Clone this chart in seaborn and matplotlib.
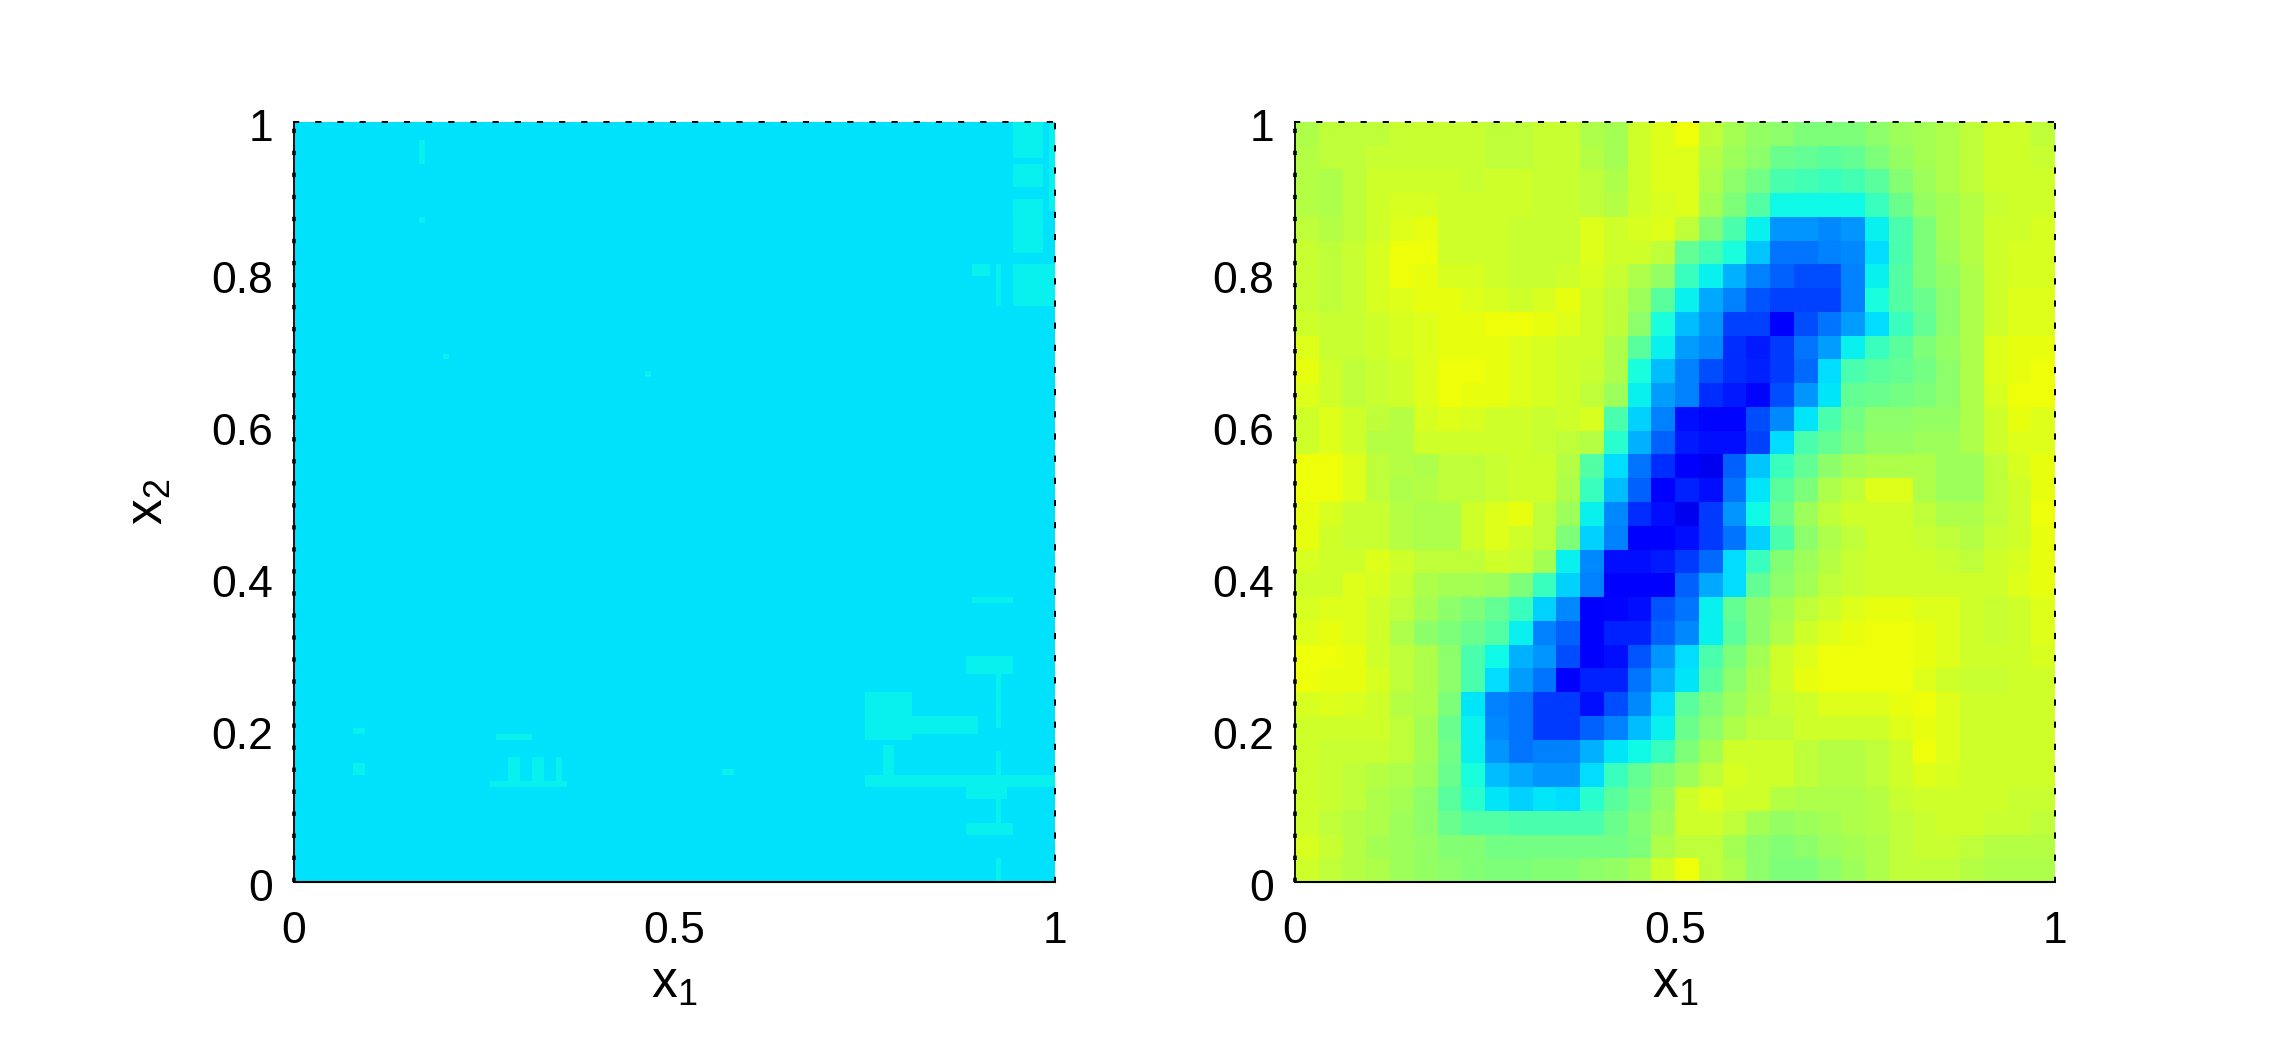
import numpy as np
import matplotlib
matplotlib.use("Agg")
import matplotlib.pyplot as plt
from matplotlib.transforms import ScaledTranslation
import seaborn as sns

sns.set_theme(style="white")
plt.rcParams['font.family'] = ['Liberation Sans', 'DejaVu Sans']
plt.rcParams['mathtext.fontset'] = 'custom'
plt.rcParams['mathtext.rm'] = 'Liberation Sans'
plt.rcParams['mathtext.it'] = 'Liberation Sans'
plt.rcParams['mathtext.default'] = 'regular'

tick_x = [0, 0.5, 1]
tick_x_labels = ['0', '0.5', '1']
tick_y = [0, 0.2, 0.4, 0.6, 0.8, 1]
tick_y_labels = ['0', '0.2', '0.4', '0.6', '0.8', '1']
x_label = r'x$_{1}$'
y_label = r'x$_{2}$'

# right panel, top row first, values on the jet scale (x100)
right_r00 = [56,58,58,58,59,59,59,59,58,58,59,59,56,55,60,62,64,58,55,53,52,50,50,50,52,54,55,56,58,60,60,58]
right_r01 = [57,58,58,59,59,59,59,59,58,58,59,59,57,55,60,62,62,57,54,52,48,47,46,47,50,53,55,56,58,60,60,59]
right_r02 = [57,56,58,60,60,60,60,59,60,60,59,59,58,56,60,62,62,56,52,49,44,43,42,43,46,51,54,56,58,60,60,60]
right_r03 = [57,56,58,60,61,61,60,60,60,60,59,59,58,57,60,61,62,55,50,45,37,37,37,37,42,48,53,55,57,59,60,60]
right_r04 = [58,57,58,60,62,63,60,60,60,59,59,59,62,60,61,62,58,50,44,36,27,27,26,27,36,44,50,55,57,60,60,61]
right_r05 = [59,58,59,61,64,64,60,60,60,59,59,59,62,60,60,58,47,43,38,32,24,24,25,26,34,44,50,54,57,60,61,61]
right_r06 = [59,58,59,61,64,63,61,61,60,59,59,60,61,59,56,53,42,36,30,25,22,20,20,25,36,45,50,53,56,60,61,61]
right_r07 = [59,58,59,61,62,63,63,62,61,60,61,63,60,58,54,46,36,29,25,21,19,19,19,25,38,45,48,52,56,60,62,62]
right_r08 = [60,59,59,60,61,62,63,63,64,64,63,62,60,58,52,38,31,27,19,19,12,20,24,28,34,42,47,52,56,60,62,62]
right_r09 = [62,59,59,60,61,62,63,63,63,62,61,60,60,56,46,36,28,26,17,15,18,24,28,36,42,46,50,53,56,62,63,63]
right_r10 = [63,60,58,59,60,62,64,64,63,62,61,60,59,56,38,31,25,20,17,16,18,23,34,44,46,47,49,52,56,62,63,64]
right_r11 = [62,60,58,59,60,62,64,63,63,62,61,60,58,54,36,28,25,17,15,13,20,27,35,47,48,49,50,52,56,61,64,64]
right_r12 = [60,62,60,58,57,61,62,61,60,60,59,60,61,44,33,25,14,13,13,20,26,35,44,49,52,52,53,53,56,60,63,62]
right_r13 = [60,62,60,57,57,60,60,60,60,60,59,58,57,40,30,22,15,14,14,19,34,44,47,50,53,53,54,54,56,60,62,62]
right_r14 = [64,64,62,58,57,56,58,58,59,60,60,57,45,34,24,17,12,10,22,32,42,47,52,55,56,56,56,54,54,58,61,63]
right_r15 = [64,64,62,58,56,57,58,58,59,60,60,56,42,31,22,11,16,14,24,35,46,50,56,58,62,62,56,54,54,58,60,63]
right_r16 = [63,61,59,59,57,56,56,60,62,63,58,54,36,26,17,14,10,18,27,37,48,54,58,60,60,60,58,56,56,58,60,64]
right_r17 = [63,60,59,59,57,56,56,60,62,60,58,50,33,25,11,12,14,18,24,33,44,52,56,58,60,60,59,58,57,59,60,63]
right_r18 = [61,60,60,62,60,58,58,58,60,59,55,36,26,14,14,15,18,23,34,42,51,54,57,59,60,60,60,59,58,60,61,63]
right_r19 = [60,60,62,61,59,56,55,55,54,50,42,33,25,12,12,12,22,29,34,47,52,55,58,59,60,60,60,60,60,60,62,63]
right_r20 = [61,62,62,60,58,55,52,50,47,42,33,26,12,13,14,21,24,36,47,52,55,58,60,62,63,63,62,62,60,59,60,62]
right_r21 = [62,63,62,60,56,52,50,48,45,36,25,22,12,16,16,22,26,36,46,52,56,60,62,63,64,64,63,62,60,59,60,62]
right_r22 = [64,64,63,60,58,56,52,44,37,30,27,20,12,14,21,27,34,44,50,55,60,62,64,64,64,64,63,62,60,60,60,61]
right_r23 = [64,63,63,61,58,56,52,44,34,28,24,11,16,16,24,30,35,46,52,56,60,63,64,64,64,64,62,60,59,59,60,60]
right_r24 = [61,62,61,60,57,56,50,35,25,24,18,18,14,20,26,34,46,50,54,57,59,60,62,62,62,63,64,62,60,60,60,60]
right_r25 = [60,60,60,60,58,55,48,36,26,24,18,18,22,25,31,36,48,52,56,58,58,60,60,60,60,62,63,62,60,60,60,60]
right_r26 = [60,59,59,59,58,55,49,36,27,24,25,25,30,35,37,42,50,55,60,60,60,58,57,57,58,60,64,62,60,60,60,60]
right_r27 = [60,59,58,57,56,54,48,38,31,29,27,27,34,42,47,51,54,58,61,60,60,58,57,57,58,60,62,61,60,60,60,60]
right_r28 = [60,59,58,56,55,52,46,40,35,33,35,34,40,46,49,53,60,62,60,60,57,56,56,56,57,59,60,60,60,60,59,59]
right_r29 = [60,58,57,56,54,52,48,45,45,44,44,44,44,48,51,54,60,60,58,55,53,54,55,56,57,58,59,60,60,59,59,58]
right_r30 = [61,59,57,55,54,53,51,51,49,49,49,49,49,49,50,56,58,58,55,52,51,52,54,55,56,58,59,59,58,57,57,57]
right_r31 = [60,58,57,56,54,53,52,51,50,50,51,51,52,53,55,60,64,58,56,52,50,50,52,54,56,58,58,58,57,56,56,56]
right_rows = [right_r00, right_r01, right_r02, right_r03, right_r04, right_r05, right_r06, right_r07,
              right_r08, right_r09, right_r10, right_r11, right_r12, right_r13, right_r14, right_r15,
              right_r16, right_r17, right_r18, right_r19, right_r20, right_r21, right_r22, right_r23,
              right_r24, right_r25, right_r26, right_r27, right_r28, right_r29, right_r30, right_r31]

# left panel: almost uniform level, with faint lighter cells on a 128 x 128 grid (row 0 at the bottom)
left_base = 34.5
left_light = 36.2
left_col_from = [121,127,121,121,121,118,114, 113, 96, 96, 96, 99,113,113,118,118,118,118,114, 33, 36, 40, 44, 34, 10, 10, 72, 21, 21, 25, 59]
left_col_to   = [126,128,126,126,128,119,117, 121,104,115,128,101,120,121,119,119,119,119,121, 46, 38, 42, 45, 40, 12, 12, 74, 22, 22, 26, 60]
left_row_from = [122,113,117,106, 97, 97,102,  35, 24, 25, 16, 18, 14,  8,  0, 10, 18, 26, 47, 16, 17, 17, 17, 24, 18, 25, 18,121,111, 88, 85]
left_row_to   = [128,128,121,115,104,104,104,  38, 32, 28, 18, 23, 16, 10,  4, 14, 22, 36, 48, 17, 21, 21, 21, 25, 20, 26, 19,125,112, 89, 86]

left_matrix = np.full((128, 128), float(left_base))
for c0, c1, r0, r1 in zip(left_col_from, left_col_to, left_row_from, left_row_to):
    left_matrix[r0:r1, c0:c1] = left_light
right_matrix = np.array(right_rows, dtype=float)[::-1]

fig = plt.figure(figsize=(22.7, 10.42), dpi=100, facecolor='white')
W, H = 2270.0, 1042.0
boxes = [(294, 761), (1295, 760)]
mats = [left_matrix, right_matrix]
FS = 32
FS_LABEL = 37
nudge = ScaledTranslation(0, -3 / 100, fig.dpi_scale_trans)

for i, ((x0, w), mat) in enumerate(zip(boxes, mats)):
    ax = fig.add_axes([x0 / W, (H - 882) / H, w / W, 760 / H])
    sns.heatmap(mat, ax=ax, cmap='jet', vmin=0, vmax=100, cbar=False,
                xticklabels=False, yticklabels=False, linewidths=0)
    n = mat.shape[0]
    ax.set_xlim(0, n)
    ax.set_ylim(0, n)
    ax.set_xticks([v * n for v in tick_x])
    ax.set_xticklabels(tick_x_labels, fontsize=FS, color='black', rotation=0)
    ax.set_yticks([v * n for v in tick_y])
    ax.set_yticklabels(tick_y_labels, fontsize=FS, color='black', rotation=0)
    ax.tick_params(axis='x', length=0, pad=21)
    ax.tick_params(axis='y', length=0, pad=15)
    for lab in ax.get_yticklabels():
        lab.set_transform(lab.get_transform() + nudge)
    for name, sp in ax.spines.items():
        sp.set_visible(True)
        sp.set_color('black')
    ax.spines['left'].set_linewidth(1.3)
    ax.spines['bottom'].set_linewidth(1.5)
    for name in ('top', 'right'):
        ax.spines[name].set_linewidth(1.4)
        ax.spines[name].set_linestyle((0, (2.2, 9.2)))
    ax.axvline(0, color='black', lw=2.6, ls=(0, (1.2, 4.9)), clip_on=False, zorder=5)
    ax.set_xlabel(x_label, fontsize=FS_LABEL, color='black')
    ax.xaxis.set_label_coords(0.5, -0.135, transform=ax.transAxes)
    ax.xaxis.label.set_verticalalignment('center')
    if i == 0:
        ax.set_ylabel(y_label, fontsize=FS_LABEL, color='black')
        ax.yaxis.set_label_coords(-0.19, 0.5, transform=ax.transAxes)
        ax.yaxis.label.set_verticalalignment('center')

fig.savefig('out.png', dpi=100, facecolor='white')
